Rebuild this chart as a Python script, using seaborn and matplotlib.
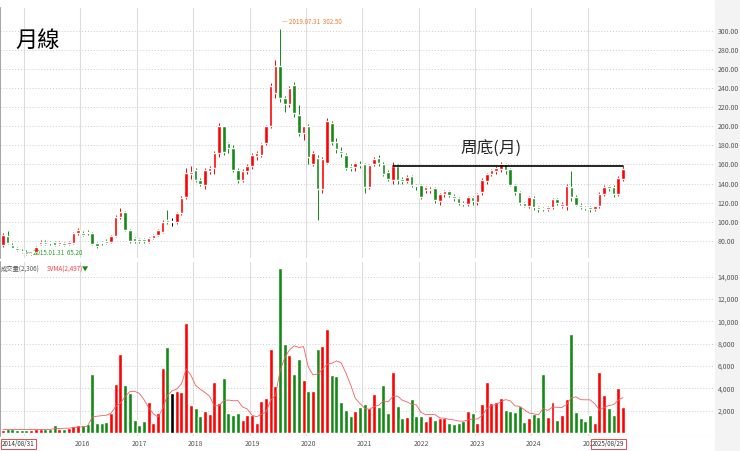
import numpy as np
import pandas as pd
import matplotlib
matplotlib.use("Agg")
import matplotlib.pyplot as plt
import seaborn as sns

opens = [76,85,76,73,69,68,66,68,77,79,79,79,77,78,77,78,88,88,89,88,78,79,80,79,85,105,110,91,83,82,
         82,79,83,86,89,102,100,100,109,126,150,154,144,138,153,156,172,200,182,177,154,144,153,158,169,170,182,200,235,263,
         230,223,243,212,193,200,160,167,134,162,204,184,174,170,158,157,161,160,136,160,167,161,152,144,158,145,143,148,139,139,
         133,133,135,122,129,132,127,125,120,119,126,121,131,143,150,153,155,160,155,139,131,120,116,125,115,114,113,115,124,117,
         117,136,126,118,115,115,113,116,129,137,136,129,145]
closes = [86,78,73,70,68,66,67,74,79,77,78,76,79,76,79,88,91,86,88,77,75,78,78,85,105,110,91,80,80,80,
          80,83,86,91,100,100,100,109,125,151,152,144,140,154,156,172,200,173,177,154,144,153,158,170,172,181,200,242,263,230,
          223,240,214,193,200,168,172,134,166,206,184,176,172,156,156,162,159,136,159,166,162,150,145,158,144,143,147,138,137,126,
          136,134,123,129,132,128,125,120,119,126,122,129,144,150,154,156,160,154,139,131,120,117,126,115,113,113,115,124,120,119,
          137,126,118,115,114,113,116,129,136,135,129,146,155]
highs = [88,90,78,74,71,70,68,75,81,81,80,80,80,79,80,89,93,90,91,89,79,80,82,86,107,114,111,92,84,83,
         83,84,87,92,102,112,104,110,127,156,158,156,146,156,158,174,203,200,184,180,156,155,160,172,174,182,201,245,270,302.5,
         232,242,246,222,200,202,174,170,168,209,206,188,178,172,160,163,164,162,160,168,170,163,154,163,160,147,149,149,140,140,
         137,136,136,130,133,133,129,126,122,127,127,130,146,151,155,158,163,162,156,140,132,121,127,127,117,115,116,125,125,121,
         140,153,128,120,117,116,117,131,138,139,138,148,158]
lows = [74,77,72,69,67,65.2,65.5,66,76,76,76,75,76,75,76,77,86,85,86,76,73,76,77,78,84,103,90,78,78,78,
        78,78,82,85,88,98,96,98,107,124,145,142,137,134,150,150,168,170,172,152,141,142,150,155,165,168,180,198,230,226,
        215,220,210,190,186,160,158,102,130,160,180,172,168,154,153,153,156,130,134,158,158,148,143,140,140,140,141,136,133,124,
        130,130,120,118,126,126,122,118,116,116,118,118,128,140,148,150,152,150,137,128,118,115,114,112,110,111,111,113,118,114,
        112,122,116,113,112,110,111,114,127,132,126,127,143]
volumes = [300,350,320,280,300,270,300,320,360,330,330,700,400,400,450,600,700,700,800,5300,900,850,1000,1800,4400,7100,4300,3600,1200,700,1100,2800,900,1800,5800,7700,
           3600,
           3800,3700,9800,2500,2200,1500,2000,1700,4600,2700,4900,1800,1600,1800,1200,1600,1600,900,2900,3100,7500,4200,14800,8000,7000,5300,6600,4700,3800,3800,7500,
           7800,9300,5200,5100,2800,2100,1500,2000,2300,2600,2200,3500,2300,4300,1800,5500,2400,1300,1400,3000,1500,1500,1100,1500,1200,1300,1300,900,800,900,1100,2000,1800,900,2600,4600,2700,2800,3100,2100,2000,1900,2400,1000,1300,1700,1400,5300,1400,2800,1200,1600,3000,8900,1900,1300,1100,1600,900,5500,3400,2200,1600,4000,2306]
years = ["2015","2016","2017","2018","2019","2020","2021","2022","2023","2024","2025"]
year_start_idx = [5,17,29,41,53,65,77,89,101,113,125]

n = len(closes)
df = pd.DataFrame({"i": np.arange(n), "o": opens, "c": closes, "h": highs, "l": lows, "v": volumes})
df["sma"] = df["v"].rolling(6, min_periods=1).mean()
RED, GREEN = "#ff0000", "#138a13"
def col(r):
    if r.c > r.o: return RED
    if r.c < r.o: return GREEN
    return "black"
df["col"] = df.apply(col, axis=1)

sns.set_theme(style="white")
plt.rcParams['font.family'] = ['Noto Sans CJK TC', 'DejaVu Sans']
fig = plt.figure(figsize=(7.4, 4.51), dpi=100)
fig.patch.set_facecolor("white")
W, H = 740, 451
def axrect(x0, y0, x1, y1):
    return [x0/W, 1-y1/H, (x1-x0)/W, (y1-y0)/H]
axp = fig.add_axes(axrect(0, 8, 715, 258))
axv = fig.add_axes(axrect(0, 262, 715, 436))
xlim = (-0.64, 151.6)

for ax in (axp, axv):
    ax.set_xlim(*xlim)
    for xi in year_start_idx:
        ax.axvline(xi - 0.5, color="#dddddd", lw=0.8, zorder=0)
    ax.yaxis.tick_right()
    ax.tick_params(axis="y", labelsize=5, colors="#555555", length=0, pad=2)
    ax.tick_params(axis="x", length=0)
    for s in ["top", "right", "bottom"]:
        ax.spines[s].set_visible(False)
    ax.spines["left"].set_color("#999999")

# price
axp.set_ylim(62, 324)
pt = list(range(80, 301, 20))
axp.set_yticks(pt)
axp.set_yticklabels([f"{t:.2f}" for t in pt])
for t in pt:
    axp.axhline(t, color="#cccccc", lw=0.7, ls=(0, (1, 2)), zorder=0)
axp.vlines(df.i, df.l, df.h, colors=df.col, lw=0.7, zorder=2)
body_lo = np.minimum(df.o, df.c)
body_h = np.maximum(np.abs(df.c - df.o), 0.6)
axp.bar(df.i, body_h, bottom=body_lo, width=0.75, color=df.col, zorder=3)
axp.set_xticks([])
fig.text(15/W, 1-47/H, "月線", fontsize=16, color="black")
axp.plot([83, 132], [158.5, 158.5], color="black", lw=1.2, zorder=4)
axp.text(104, 176, "周底(月)", fontsize=12, ha="center", va="center")
axp.text(59.5, 309, "— 2019.07.31  302.50", fontsize=4.5, color="#f07830", va="center")
axp.text(5.0, 67, "— 2015.01.31  65.20", fontsize=4.5, color="#2aa02a", va="center")

# volume
axv.set_ylim(-270, 15300)
vt = list(range(2000, 14001, 2000))
axv.set_yticks(vt)
axv.set_yticklabels([f"{t:,}" for t in vt])
for t in vt:
    axv.axhline(t, color="#cccccc", lw=0.7, ls=(0, (1, 2)), zorder=0)
axv.bar(df.i, df.v, width=0.85, color=df.col, zorder=2)
sns.lineplot(data=df, x="i", y="sma", ax=axv, color="#f06060", lw=0.6, zorder=3, legend=False)
axv.set_xlabel(""); axv.set_ylabel("")
axv.set_xticks(year_start_idx[1:])
axv.set_xticklabels(years[1:], fontsize=5, color="#555555")
axv.tick_params(axis="x", pad=3)
axv.axhline(-270, color="#cccccc", lw=0.8)
axv.text(-0.5, 15000, "成交量(2,306)", fontsize=4.5, color="#555555", va="top", ha="left")
axv.text(9.2, 15000, "SVMA(2,497)", fontsize=4.5, color="#ff4040", va="top", ha="left")
axv.text(16.8, 15000, "▼", fontsize=4.5, color="#138a13", va="top", ha="left")

# right grey strip
fig.patches.append(plt.Rectangle((715/W, 0), 25/W, 1, transform=fig.transFigure, color="#f3f3f3", zorder=-1))
fig.text(2/W, 1-444/H, "2014/08/31", fontsize=4.5, color="#333333", va="center",
         bbox=dict(boxstyle="square,pad=0.2", fc="white", ec="#e03030", lw=0.6))
fig.text(592/W, 1-444/H, "2025/08/29", fontsize=4.5, color="#333333", va="center",
         bbox=dict(boxstyle="square,pad=0.2", fc="white", ec="#e03030", lw=0.6))

fig.savefig("out.png", dpi=100)
